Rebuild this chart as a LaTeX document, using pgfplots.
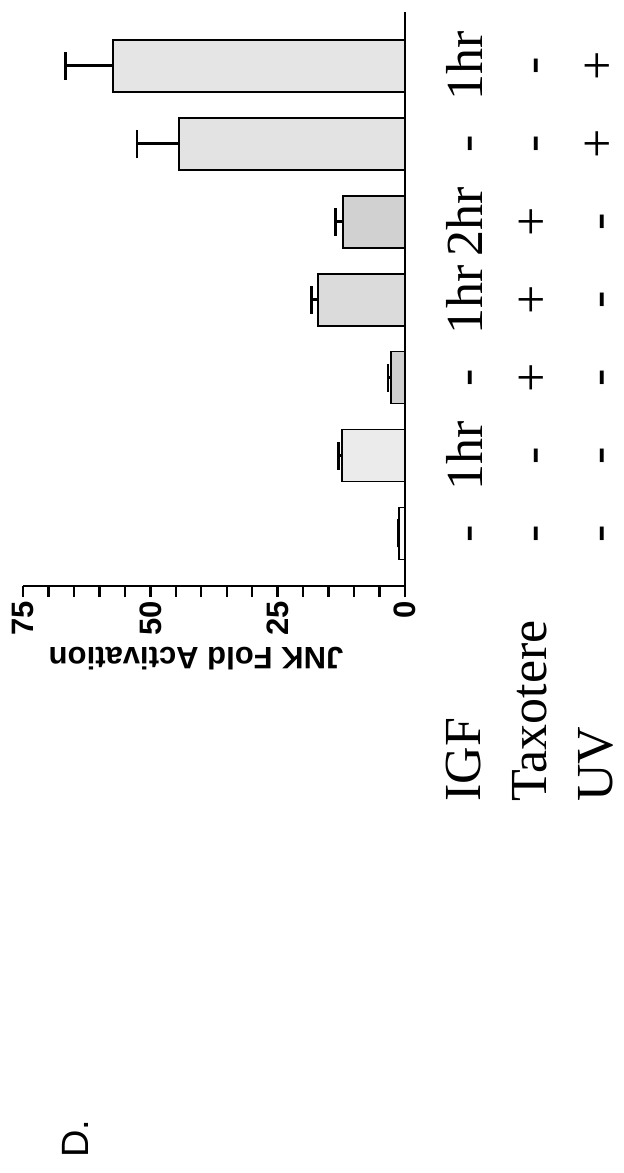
\documentclass[border=0pt]{standalone}
\usepackage{fontspec}
\setmainfont{Liberation Serif}
\newfontfamily\arialf{Liberation Sans}
\usepackage{pgfplots}
\pgfplotsset{compat=1.18}
\begin{document}
\begin{tikzpicture}
\useasboundingbox (0,0) rectangle (311.5pt,-586.5pt);
\begin{axis}[
  at={(107pt,-149.5pt)}, anchor=center,
  width=191pt, height=287pt, scale only axis,
  xbar, bar width=26pt,
  x dir=reverse,
  xmin=0, xmax=75, ymin=0.326, ymax=7.69,
  axis x line*=bottom, axis y line*=right,
  axis line style={line width=1.3pt},
  xtick={0,25,50,75}, minor x tick num=4,
  tick align=outside,
  major tick length=5.5pt, minor tick length=5.5pt,
  tick style={line width=1.2pt, black},
  ytick style={draw=none},
  /pgf/number format/assume math mode=true,
  xticklabel style={rotate=90, anchor=east, inner sep=2pt, font=\arialf\bfseries\fontsize{15.5}{15.5}\selectfont},
  ytick={1,2,3,4,5,6,7},
  yticklabels={{\vphantom{1h}-\\-\\-},{1hr\\-\\-},{\vphantom{1h}-\\+\\-},{1hr\\+\\-},{2hr\\+\\-},{\vphantom{1h}-\\-\\+},{1hr\\-\\+}},
  yticklabel style={rotate=90, anchor=north, inner sep=0pt, align=center, font=\fontsize{26}{33}\selectfont},
  yticklabel shift=15pt,
  xlabel={JNK Fold Activation},
  xlabel style={rotate=180, font=\arialf\bfseries\fontsize{15.5}{15.5}\selectfont, at={(ticklabel cs:0.453)}, anchor=south},
  error bars/x dir=plus, error bars/x explicit,
  error bars/error bar style={line width=1.3pt, black},
  error bars/error mark options={rotate=90, mark size=7pt, line width=1.3pt, black},
]
\addplot[bar shift=0pt, fill=gray!4, draw=black, line width=0.9pt] coordinates {(1.2,1) +- (0.15,0)};
\addplot[bar shift=0pt, fill=gray!16, draw=black, line width=0.9pt] coordinates {(12.4,2) +- (0.6,0)};
\addplot[bar shift=0pt, fill=gray!38, draw=black, line width=0.9pt] coordinates {(2.7,3) +- (0.6,0)};
\addplot[bar shift=0pt, fill=gray!28, draw=black, line width=0.9pt] coordinates {(17.1,4) +- (1.2,0)};
\addplot[bar shift=0pt, fill=gray!36, draw=black, line width=0.9pt] coordinates {(12.2,5) +- (1.5,0)};
\addplot[bar shift=0pt, fill=gray!22, draw=black, line width=0.9pt] coordinates {(44.4,6) +- (8.2,0)};
\addplot[bar shift=0pt, fill=gray!20, draw=black, line width=0.9pt] coordinates {(57.3,7) +- (9.3,0)};
\end{axis}
\node[rotate=90, anchor=north west, inner sep=0pt, align=left, font=\fontsize{26}{33}\selectfont] at (222.25pt,-401pt) {\vphantom{1h}IGF\\Taxotere\\UV};
\node[rotate=90, anchor=base west, inner sep=0pt, font=\arialf\fontsize{19}{19}\selectfont] at (44pt,-579pt) {D.};
\end{tikzpicture}
\end{document}
